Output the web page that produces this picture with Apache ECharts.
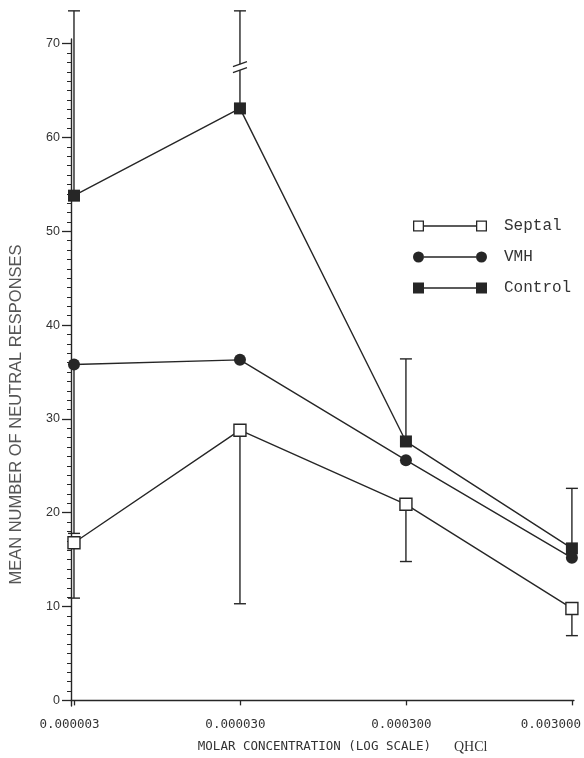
<!DOCTYPE html>
<html>
<head>
<meta charset="utf-8">
<script src="https://cdn.jsdelivr.net/npm/echarts@6/dist/echarts.min.js"></script>
<style>
  html, body { margin: 0; padding: 0; background: #ffffff; }
  #chart { width: 584px; height: 758px; }
</style>
</head>
<body>
<div id="chart"></div>
<script>
// Molar concentrations of QHCl (plotted on a log scale)
const concentrations = [0.000003, 0.00003, 0.0003, 0.003];
const concLabels = ['0.000003', '0.000030', '0.000300', '0.003000'];

// Mean number of neutral responses per group
const septal  = [16.8, 28.8, 20.9, 9.8];
const vmh     = [35.8, 36.3, 25.6, 15.2];
const control = [53.8, 63.1, 27.6, 16.2];

// Error bar ends (only the visible half of each bar)
const septalLow   = [10.9, 10.3, 14.8, 6.9];
const vmhLow      = [17.8, null, null, null];
const controlHigh = [73.5, 73.5, 36.4, 22.6];
const controlBreak = [null, 67.5, null, null];

// Y axis ticks
const yMajorTicks = [0, 10, 20, 30, 40, 50, 60, 70];
const yMinorTicks = [];
for (let v = 0; v <= 70; v++) yMinorTicks.push(v);

const INK = '#262626';
const xs = concentrations.map(c => Math.log10(c));
const decadePx = 167;

function pairs(vals) {
  return xs.map((x, i) => [x, vals[i]]);
}

function barData(means, ends, breaks) {
  const out = [];
  means.forEach((m, i) => {
    if (ends[i] == null) return;
    out.push({ value: [xs[i], m, ends[i]], brk: breaks ? breaks[i] : null });
  });
  return out;
}

function makeBarRenderer(data) {
  return function (params, api) {
    const item = data[params.dataIndex];
    const x = item.value[0];
    const p0 = api.coord([x, item.value[1]]);
    const p1 = api.coord([x, item.value[2]]);
    const style = { stroke: INK, lineWidth: 1.4, fill: null };
    const cap = 6;
    const children = [
      { type: 'line', shape: { x1: p0[0], y1: p0[1], x2: p1[0], y2: p1[1] }, style: style },
      { type: 'line', shape: { x1: p1[0] - cap, y1: p1[1], x2: p1[0] + cap, y2: p1[1] }, style: style }
    ];
    if (item.brk != null) {
      const pb = api.coord([x, item.brk]);
      children.push({ type: 'rect', shape: { x: pb[0] - 3, y: pb[1] - 3, width: 6, height: 6 },
                      style: { fill: '#ffffff' } });
      children.push({ type: 'line', shape: { x1: pb[0] - 7, y1: pb[1] - 0.5, x2: pb[0] + 7, y2: pb[1] - 5.5 }, style: style });
      children.push({ type: 'line', shape: { x1: pb[0] - 7, y1: pb[1] + 5.5, x2: pb[0] + 7, y2: pb[1] + 0.5 }, style: style });
    }
    return { type: 'group', children: children };
  };
}

const septalBars  = barData(septal, septalLow);
const vmhBars     = barData(vmh, vmhLow);
const controlBars = barData(control, controlHigh, controlBreak);

function barSeries(data) {
  return {
    type: 'custom',
    renderItem: makeBarRenderer(data),
    data: data.map(d => d.value),
    encode: { x: 0, y: [1, 2] },
    clip: false,
    z: 1,
    silent: true
  };
}

// Legend icons: a line with a marker at each end
const hollowSquares = 'path://M0,0H11V11H0Z M1.3,1.3V9.7H9.7V1.3Z M11,4.85H63V6.15H11Z M63,0H74V11H63Z M64.3,1.3V9.7H72.7V1.3Z';
const solidCircles  = 'path://M0,5.5A5.5,5.5,0,1,0,11,5.5A5.5,5.5,0,1,0,0,5.5Z M11,4.85H63V6.15H11Z M63,5.5A5.5,5.5,0,1,0,74,5.5A5.5,5.5,0,1,0,63,5.5Z';
const solidSquares  = 'path://M0,0H11V11H0Z M11,4.85H63V6.15H11Z M63,0H74V11H63Z';

function nearestLabel(v) {
  let best = 0;
  xs.forEach((x, i) => { if (Math.abs(x - v) < Math.abs(xs[best] - v)) best = i; });
  return best;
}

const chart = echarts.init(document.getElementById('chart'), null, { renderer: 'canvas' });

chart.setOption({
  animation: false,
  backgroundColor: '#ffffff',
  grid: { left: 68, right: 10, top: 39, bottom: 45, containLabel: false },
  legend: {
    orient: 'vertical',
    left: 413,
    top: 218,
    padding: 0,
    itemWidth: 74,
    itemHeight: 11,
    itemGap: 15,
    selectedMode: false,
    textStyle: { fontFamily: 'Liberation Mono', fontSize: 16, color: '#333333', padding: [0, 0, 0, 12] },
    data: [
      { name: 'Septal',  icon: hollowSquares, itemStyle: { color: INK, borderWidth: 0 } },
      { name: 'VMH',     icon: solidCircles,  itemStyle: { color: INK, borderWidth: 0 } },
      { name: 'Control', icon: solidSquares,  itemStyle: { color: INK, borderWidth: 0 } }
    ]
  },
  xAxis: {
    type: 'value',
    min: xs[0] - 3 / decadePx,
    max: xs[xs.length - 1] + 2 / decadePx,
    splitLine: { show: false },
    axisLine: { show: true, lineStyle: { color: INK, width: 1.4 } },
    axisTick: { show: true, customValues: xs, length: 5, lineStyle: { color: INK, width: 1.3 } },
    axisLabel: {
      customValues: xs,
      margin: 12,
      formatter: function (v) {
        const i = nearestLabel(v);
        return i === xs.length - 1 ? '{last|' + concLabels[i] + '}' : '{n|' + concLabels[i] + '}';
      },
      rich: {
        n: { fontFamily: 'DejaVu Sans Mono', fontSize: 12.5, color: '#333333', padding: [0, 9, 0, 0] },
        last: { fontFamily: 'DejaVu Sans Mono', fontSize: 12.5, color: '#333333', padding: [0, 42, 0, 0] }
      }
    },
    name: 'MOLAR CONCENTRATION (LOG SCALE)',
    nameLocation: 'middle',
    nameGap: 34,
    nameTextStyle: { fontFamily: 'DejaVu Sans Mono', fontSize: 12.5, color: '#333333', padding: [0, 16, 0, 0] }
  },
  yAxis: [
    {
      type: 'value',
      min: -0.6,
      max: 70.5,
      position: 'left',
      splitLine: { show: false },
      axisLine: { show: true, lineStyle: { color: INK, width: 1.4 } },
      axisTick: { show: true, customValues: yMinorTicks, length: 4, lineStyle: { color: INK, width: 1 } },
      axisLabel: { show: false }
    },
    {
      type: 'value',
      min: -0.6,
      max: 70.5,
      position: 'left',
      splitLine: { show: false },
      axisLine: { show: false },
      axisTick: { show: true, customValues: yMajorTicks, length: 9, lineStyle: { color: INK, width: 1.3 } },
      axisLabel: {
        customValues: yMajorTicks,
        margin: 11,
        fontFamily: 'Liberation Sans',
        fontSize: 12.5,
        color: '#333333'
      },
      name: 'MEAN NUMBER OF NEUTRAL RESPONSES',
      nameLocation: 'middle',
      nameGap: 46,
      nameTextStyle: { fontFamily: 'Liberation Sans', fontSize: 16.5, color: '#555555', padding: [0, 84, 0, 0] }
    }
  ],
  graphic: [
    { type: 'text', left: 454, top: 740, style: { text: 'QHCl', fontFamily: 'Liberation Serif', fontSize: 14, fill: '#333333' } }
  ],
  series: [
    barSeries(controlBars),
    barSeries(vmhBars),
    barSeries(septalBars),
    {
      name: 'Control', type: 'line', data: pairs(control), z: 3,
      symbol: 'rect', symbolSize: 12, showAllSymbol: true,
      lineStyle: { color: INK, width: 1.4 },
      itemStyle: { color: INK }
    },
    {
      name: 'VMH', type: 'line', data: pairs(vmh), z: 3,
      symbol: 'circle', symbolSize: 12, showAllSymbol: true,
      lineStyle: { color: INK, width: 1.4 },
      itemStyle: { color: INK }
    },
    {
      name: 'Septal', type: 'line', data: pairs(septal), z: 3,
      symbol: 'rect', symbolSize: 12, showAllSymbol: true,
      lineStyle: { color: INK, width: 1.4 },
      itemStyle: { color: '#ffffff', borderColor: INK, borderWidth: 1.4 }
    }
  ]
});
</script>
</body>
</html>
